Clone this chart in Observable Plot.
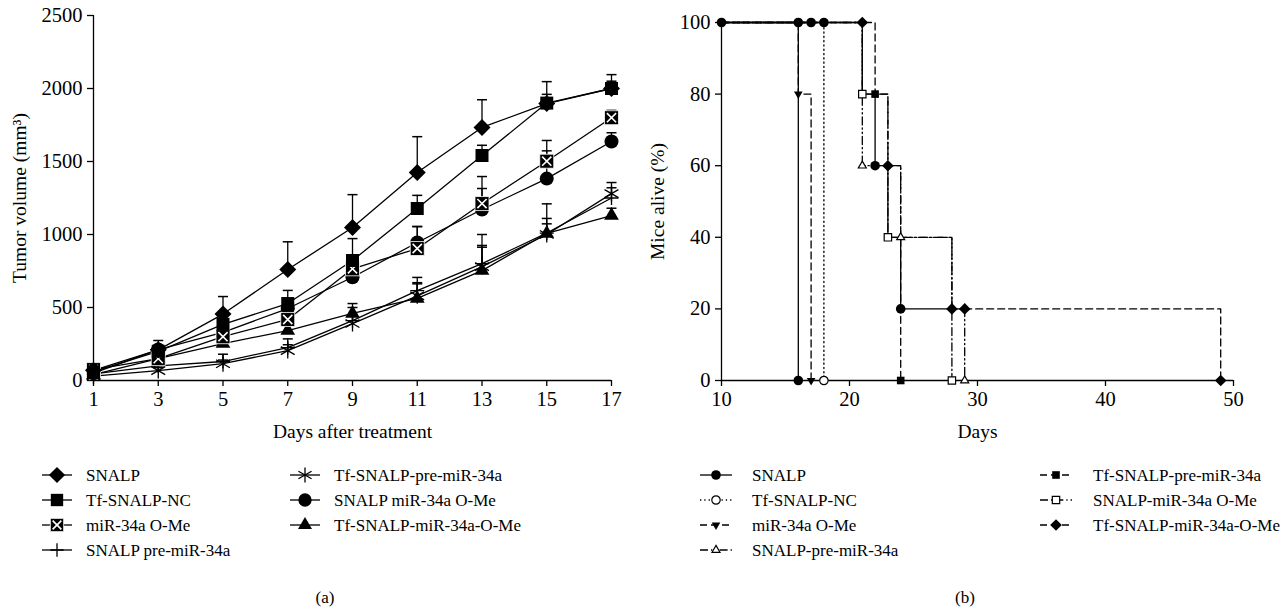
<!DOCTYPE html>
<html><head><meta charset="utf-8">
<script src="https://cdn.jsdelivr.net/npm/d3@7"></script>
<script src="https://cdn.jsdelivr.net/npm/@observablehq/plot@0.6"></script>
<style>
body{margin:0;background:#fff;}
#root{position:relative;width:1288px;height:611px;font-family:"Liberation Serif","DejaVu Serif",serif;color:#000;background:#fff;overflow:hidden;}
#root > svg, #root > figure{position:absolute;top:0;margin:0;}
</style></head><body><div id="root"></div>
<script>
// ---------- Panel (a) data ----------
const days = [1, 3, 5, 7, 9, 11, 13, 15, 17];
const groupsA = ["SNALP", "Tf-SNALP-NC", "miR-34a O-Me", "SNALP pre-miR-34a",
                 "Tf-SNALP-pre-miR-34a", "SNALP miR-34a O-Me", "Tf-SNALP-miR-34a-O-Me"];
const volSNALP    = [70, 210, 455, 760, 1048, 1425, 1733, 1897, 2000];
const errSNALP    = [20, 30, 120, 190, 225, 245, 190, 150, 95];
const volTfNC     = [60, 200, 385, 527, 822, 1178, 1541, 1900, 2000];
const errTfNC     = [15, 30, 70, 90, 150, 90, 70, 60, 50];
const volMirOMe   = [75, 150, 300, 418, 765, 904, 1212, 1502, 1800];
const errMirOMe   = [15, 30, 50, 90, 80, 150, 185, 142, 50];
const volSnalpPre = [45, 100, 130, 225, 410, 616, 800, 1010, 1250];
const errSnalpPre = [10, 25, 50, 60, 90, 90, 200, 200, 70];
const volTfPre    = [30, 68, 115, 205, 390, 580, 780, 1000, 1280];
const errTfPre    = [10, 20, 25, 40, 60, 90, 145, 110, 76];
const volSnalpOMe = [50, 212, 330, 493, 707, 945, 1171, 1383, 1637];
const errSnalpOMe = [15, 62, 60, 70, 80, 110, 144, 190, 60];
const volTfOMe    = [40, 150, 253, 342, 459, 562, 753, 1007, 1130];
const errTfOMe    = [10, 30, 40, 50, 68, 100, 160, 66, 50];
const xTicksA = [1, 3, 5, 7, 9, 11, 13, 15, 17];
const yTicksA = [0, 500, 1000, 1500, 2000, 2500];

// ---------- Panel (b) data ----------
const groupsB = ["SNALP", "Tf-SNALP-NC", "miR-34a O-Me", "SNALP-pre-miR-34a",
                 "Tf-SNALP-pre-miR-34a", "SNALP-miR-34a O-Me", "Tf-SNALP-miR-34a-O-Me"];
const kmSNALP    = [[10,100],[16,100],[16,0]];
const kmTfNC     = [[10,100],[18,100],[18,0]];
const kmMirOMe   = [[10,100],[16,100],[16,80],[17,80],[17,0]];
const kmSnalpPre = [[10,100],[21,100],[21,60],[24,60],[24,40],[28,40],[28,20],[29,20],[29,0]];
const kmTfPre    = [[10,100],[22,100],[22,80],[23,80],[23,60],[24,60],[24,0]];
const kmSnalpOMe = [[10,100],[21,100],[21,80],[23,80],[23,40],[28,40],[28,0]];
const kmTfOMe    = [[10,100],[21,100],[21,80],[22,80],[22,60],[23,60],[23,40],[24,40],[24,20],[29,20],[49,20],[49,0]];
const evSNALP    = [[10,100],[16,100],[17,100],[18,100],[16,0],[22,60],[24,20]];
const evTfNC     = [[18,0]];
const evMirOMe   = [[16,80],[17,0]];
const evSnalpPre = [[21,60],[24,40],[29,0]];
const evTfPre    = [[22,80],[24,0]];
const evSnalpOMe = [[21,80],[23,40],[28,0]];
const evTfOMe    = [[21,100],[23,60],[28,20],[29,20],[49,0]];
const xTicksB = [10, 20, 30, 40, 50];
const yTicksB = [0, 20, 40, 60, 80, 100];

// ---------- symbols ----------
function sym(fn){ return {draw(ctx,size){ const r = Math.sqrt(size/Math.PI); fn(ctx,r); }}; }
const S = {
  diamond: sym((c,r)=>{c.moveTo(0,-r);c.lineTo(r,0);c.lineTo(0,r);c.lineTo(-r,0);c.closePath();}),
  square: sym((c,r)=>{c.moveTo(-r,-r);c.lineTo(r,-r);c.lineTo(r,r);c.lineTo(-r,r);c.closePath();}),
  triUp: sym((c,r)=>{const a=r*Math.sqrt(3)/2;c.moveTo(0,-r);c.lineTo(a,r/2);c.lineTo(-a,r/2);c.closePath();}),
  triDown: sym((c,r)=>{const a=r*Math.sqrt(3)/2;c.moveTo(0,r);c.lineTo(a,-r/2);c.lineTo(-a,-r/2);c.closePath();}),
  asterisk: sym((c,r)=>{const a=r*Math.cos(Math.PI/6),b=r/2;c.moveTo(0,-r);c.lineTo(0,r);c.moveTo(-a,-b);c.lineTo(a,b);c.moveTo(-a,b);c.lineTo(a,-b);}),
  plus: sym((c,r)=>{c.moveTo(-r,0);c.lineTo(r,0);c.moveTo(0,-r);c.lineTo(0,r);}),
  cap: sym((c,r)=>{c.moveTo(-r,0);c.lineTo(r,0);}),
  times: sym((c,r)=>{c.moveTo(-r,-r);c.lineTo(r,r);c.moveTo(-r,r);c.lineTo(r,-r);}),
  circle: sym((c,r)=>{c.moveTo(r,0);c.arc(0,0,r,0,2*Math.PI);c.closePath();})
};

// ---------- build tables ----------
const volsA = [volSNALP, volTfNC, volMirOMe, volSnalpPre, volTfPre, volSnalpOMe, volTfOMe];
const errsA = [errSNALP, errTfNC, errMirOMe, errSnalpPre, errTfPre, errSnalpOMe, errTfOMe];
const tableA = groupsA.flatMap((g,i)=>days.map((d,j)=>({series:g, day:d, v:volsA[i][j], top:volsA[i][j]+errsA[i][j]})));

const markA = {
  "SNALP": [{symbol:S.diamond, r:8.5, fill:"black", stroke:"none"}],
  "Tf-SNALP-NC": [{symbol:S.square, r:6.5, fill:"black", stroke:"none"}],
  "miR-34a O-Me": [{symbol:S.square, r:7, fill:"black", stroke:"white", strokeWidth:0.8},
                   {symbol:S.times, r:4.6, fill:"none", stroke:"white", strokeWidth:1.6}],
  "SNALP pre-miR-34a": [{symbol:S.plus, r:7, fill:"none", stroke:"black", strokeWidth:1.3}],
  "Tf-SNALP-pre-miR-34a": [{symbol:S.asterisk, r:8, fill:"none", stroke:"black", strokeWidth:1.3}],
  "SNALP miR-34a O-Me": [{symbol:S.circle, r:7, fill:"black", stroke:"none"}],
  "Tf-SNALP-miR-34a-O-Me": [{symbol:S.triUp, r:8.5, fill:"black", stroke:"none"}]
};
const drawOrderA = ["SNALP pre-miR-34a","Tf-SNALP-pre-miR-34a","Tf-SNALP-miR-34a-O-Me","SNALP miR-34a O-Me","miR-34a O-Me","Tf-SNALP-NC","SNALP"];

const fontFam = '"Liberation Serif","DejaVu Serif",serif';
const TICK = 20.5, TITLE = 19.5, LEG = 17;
const styleBase = {fontFamily: fontFam, fontSize: TICK + "px", color: "black", background: "transparent", overflow: "visible"};

const plotA = Plot.plot({
  width: 640, height: 430,
  marginLeft: 93, marginRight: 29, marginTop: 15, marginBottom: 50,
  x: {domain: [1, 17]}, y: {domain: [0, 2500]},
  style: styleBase,
  marks: [
    Plot.ruleX([1], {stroke: "black", strokeWidth: 1.3}),
    Plot.ruleY([0], {stroke: "black", strokeWidth: 1.3}),
    Plot.axisX({ticks: xTicksA, tickSize: 6, tickPadding: 5, fontSize: TICK, label: null, tickFormat: d => String(d), strokeWidth: 1.3}),
    Plot.axisY({ticks: yTicksA, tickSize: 6, tickPadding: 5, fontSize: TICK, label: null, tickFormat: d => String(d), strokeWidth: 1.3}),
    Plot.line(tableA, {x: "day", y: "v", z: "series", stroke: "black", strokeWidth: 1.3}),
    Plot.ruleX(tableA, {x: "day", y1: "v", y2: "top", stroke: "black", strokeWidth: 1.3}),
    Plot.dot(tableA, {x: "day", y: "top", symbol: S.cap, r: 5, fill: "none", stroke: "black", strokeWidth: 1.5}),
    ...drawOrderA.flatMap(g => markA[g].map(m => Plot.dot(tableA.filter(d => d.series === g), {x: "day", y: "v", ...m}))),
    Plot.text(["Tumor volume (mm³)"], {text: d => d, frameAnchor: "left", textAnchor: "middle", lineAnchor: "middle", rotate: -90, dx: -74, fontSize: TITLE}),
    Plot.text(["Days after treatment"], {text: d => d, frameAnchor: "bottom", lineAnchor: "middle", dy: 51, fontSize: TITLE})
  ]
});

// ---------- (b) ----------
const kms = [kmSNALP, kmTfNC, kmMirOMe, kmSnalpPre, kmTfPre, kmSnalpOMe, kmTfOMe];
const evs = [evSNALP, evTfNC, evMirOMe, evSnalpPre, evTfPre, evSnalpOMe, evTfOMe];
const pathB = groupsB.flatMap((g,i)=>kms[i].map(([d,p])=>({series:g, day:d, pct:p})));
const eventsB = groupsB.flatMap((g,i)=>evs[i].map(([d,p])=>({series:g, day:d, pct:p})));
const dashB = {
  "SNALP": null, "Tf-SNALP-NC": "1.3,3", "miR-34a O-Me": "7,4",
  "SNALP-pre-miR-34a": "8,3,1.3,3,1.3,3", "Tf-SNALP-pre-miR-34a": "7,4",
  "SNALP-miR-34a O-Me": "8,3,1.3,3", "Tf-SNALP-miR-34a-O-Me": "7,4"
};
const markB = {
  "SNALP": {symbol: S.circle, r: 4.8, fill: "black", stroke: "none"},
  "Tf-SNALP-NC": {symbol: S.circle, r: 4.2, fill: "white", stroke: "black", strokeWidth: 1.2},
  "miR-34a O-Me": {symbol: S.triDown, r: 5, fill: "black", stroke: "none"},
  "SNALP-pre-miR-34a": {symbol: S.triUp, r: 4.6, fill: "white", stroke: "black", strokeWidth: 1.2},
  "Tf-SNALP-pre-miR-34a": {symbol: S.square, r: 3.8, fill: "black", stroke: "none"},
  "SNALP-miR-34a O-Me": {symbol: S.square, r: 3.7, fill: "white", stroke: "black", strokeWidth: 1.2},
  "Tf-SNALP-miR-34a-O-Me": {symbol: S.diamond, r: 5.8, fill: "black", stroke: "none"}
};
const lineMarksB = groupsB.flatMap(g => {
  const rows = pathB.filter(d => d.series === g);
  if (g === "Tf-SNALP-miR-34a-O-Me") {
    return [
      Plot.line(rows.filter(d => d.day <= 29), {x: "day", y: "pct", stroke: "black", strokeWidth: 1.3}),
      Plot.line(rows.filter(d => d.day >= 29), {x: "day", y: "pct", stroke: "black", strokeWidth: 1.3, strokeDasharray: dashB[g]})
    ];
  }
  return [Plot.line(rows, {x: "day", y: "pct", stroke: "black", strokeWidth: 1.3, strokeDasharray: dashB[g] || undefined})];
});

const plotB = Plot.plot({
  width: 640, height: 430,
  marginLeft: 81, marginRight: 47, marginTop: 22, marginBottom: 50,
  x: {domain: [10, 50]}, y: {domain: [0, 100]},
  style: styleBase,
  marks: [
    Plot.ruleX([10], {stroke: "black", strokeWidth: 1.3}),
    Plot.ruleY([0], {stroke: "black", strokeWidth: 1.3}),
    Plot.axisX({ticks: xTicksB, tickSize: 6, tickPadding: 5, fontSize: TICK, label: null, tickFormat: d => String(d), strokeWidth: 1.3}),
    Plot.axisY({ticks: yTicksB, tickSize: 6, tickPadding: 5, fontSize: TICK, label: null, tickFormat: d => String(d), strokeWidth: 1.3}),
    ...lineMarksB,
    ...groupsB.map(g => Plot.dot(eventsB.filter(d => d.series === g), {x: "day", y: "pct", ...markB[g]})),
    Plot.text(["Mice alive (%)"], {text: d => d, frameAnchor: "left", textAnchor: "middle", lineAnchor: "middle", rotate: -90, dx: -64, fontSize: TITLE}),
    Plot.text(["Days"], {text: d => d, frameAnchor: "bottom", lineAnchor: "middle", dy: 51, fontSize: TITLE})
  ]
});

const root = document.getElementById("root");
plotA.style.left = "0px";
plotB.style.left = "640px";
root.appendChild(plotA);
root.appendChild(plotB);

// ---------- legends & captions ----------
const ov = d3.select(root).append("svg")
  .attr("width", 1288).attr("height", 611)
  .style("position", "absolute").style("left", "0px").style("top", "0px")
  .style("pointer-events", "none")
  .style("font-family", fontFam);

const rowY = i => 475 + i * 25;
function legendItem(x0, x1, y, tx, label, dash, marks) {
  const g = ov.append("g");
  g.append("line").attr("x1", x0).attr("x2", x1).attr("y1", y).attr("y2", y)
    .attr("stroke", "black").attr("stroke-width", 1.3)
    .attr("stroke-dasharray", dash || null);
  for (const m of marks) {
    g.append("path")
      .attr("d", d3.symbol().type(m.symbol).size(Math.PI * m.r * m.r)())
      .attr("transform", `translate(${(x0 + x1) / 2},${y})`)
      .attr("fill", m.fill).attr("stroke", m.stroke)
      .attr("stroke-width", m.strokeWidth || 1);
  }
  g.append("text").attr("x", tx).attr("y", y).attr("dy", "0.35em")
    .attr("font-size", LEG).text(label);
}
groupsA.forEach((g, i) => {
  const col = i < 4 ? 0 : 1, row = i < 4 ? i : i - 4;
  const x0 = col ? 290 : 42;
  const ms = markA[g].map(m => ({...m, r: m.r * 0.95}));
  legendItem(x0, x0 + 30, rowY(row), col ? 334 : 86, g, null, ms);
});
groupsB.forEach((g, i) => {
  const col = i < 4 ? 0 : 1, row = i < 4 ? i : i - 4;
  const x0 = col ? 1040 : 700;
  legendItem(x0, x0 + 32, rowY(row), col ? 1093 : 752, g, dashB[g], [markB[g]]);
});
ov.append("text").attr("x", 325).attr("y", 597).attr("dy", "0.35em").attr("text-anchor", "middle").attr("font-size", LEG).text("(a)");
ov.append("text").attr("x", 965).attr("y", 597).attr("dy", "0.35em").attr("text-anchor", "middle").attr("font-size", LEG).text("(b)");
</script>
</body></html>
